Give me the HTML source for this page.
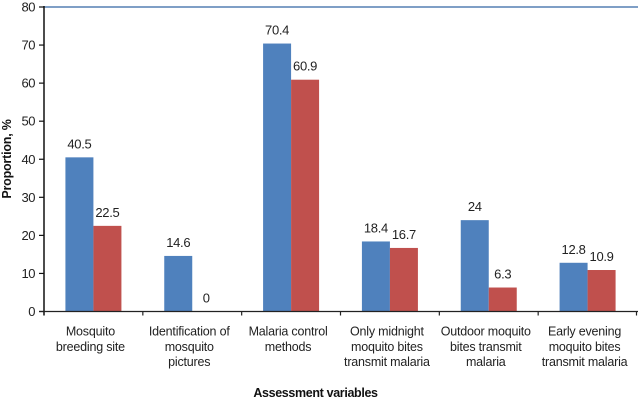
<!DOCTYPE html>
<html>
<head>
<meta charset="utf-8">
<style>
html,body{margin:0;padding:0;background:#fff;width:638px;height:401px;overflow:hidden}
svg{display:block}
text{font-family:"Liberation Sans",sans-serif;fill:#222}
</style>
</head>
<body>
<svg id="chart" width="638" height="401" viewBox="0 0 638 401" xmlns="http://www.w3.org/2000/svg">
<rect width="638" height="401" fill="#fff"/>
<text transform="translate(11,159) rotate(-90)" text-anchor="middle" font-size="12.5" font-weight="700" letter-spacing="-0.2" style="fill:#111">Proportion, %</text>
<text x="315.5" y="397" text-anchor="middle" font-size="12.5" font-weight="700" letter-spacing="-0.35" style="fill:#111">Assessment variables</text>
</svg>
<script>
const categories = [
  ["Mosquito", "breeding site"],
  ["Identification of", "mosquito", "pictures"],
  ["Malaria control", "methods"],
  ["Only midnight", "moquito bites", "transmit malaria"],
  ["Outdoor moquito", "bites transmit", "malaria"],
  ["Early evening", "moquito bites", "transmit malaria"]
];
const seriesBlue = [40.5, 14.6, 70.4, 18.4, 24, 12.8];
const seriesRed = [22.5, 0, 60.9, 16.7, 6.3, 10.9];
const yTicks = [0, 10, 20, 30, 40, 50, 60, 70, 80];

const NS = 'http://www.w3.org/2000/svg';
const svg = document.getElementById('chart');
const plotLeft = 44, plotRight = 637, plotTop = 7, plotBottom = 311.5, yMax = 80;
const barWidth = 28;
function yScale(v) { return plotBottom - (v / yMax) * (plotBottom - plotTop); }
function bandWidth() { return (plotRight - plotLeft) / categories.length; }
function xCenter(i) { return plotLeft + bandWidth() * (i + 0.5); }
function make(tag, attrs, text) {
  const el = document.createElementNS(NS, tag);
  for (const k in attrs) el.setAttribute(k, attrs[k]);
  if (text !== undefined) el.textContent = text;
  svg.appendChild(el);
  return el;
}

// top border line
const topLine = make('line', {x1: plotLeft, x2: 638, y1: plotTop, y2: plotTop, stroke: '#7f9fc6', 'stroke-width': 2});



// bars
categories.forEach(function (c, i) {
  const cx = xCenter(i);
  const blueBar = make('rect', {x: cx - barWidth, y: yScale(seriesBlue[i]), width: barWidth, height: plotBottom - yScale(seriesBlue[i]), fill: '#4f81bd'});
  
  
  const redBar = make('rect', {x: cx, y: yScale(seriesRed[i]), width: barWidth, height: plotBottom - yScale(seriesRed[i]), fill: '#c0504d'});
  
  
  const blueLabel = make('text', {x: cx - barWidth / 2, y: yScale(seriesBlue[i]) - 9, 'text-anchor': 'middle', 'font-size': 13, 'letter-spacing': -0.3}, String(seriesBlue[i]));
  
  
  const redLabel = make('text', {x: cx + barWidth / 2, y: yScale(seriesRed[i]) - 9, 'text-anchor': 'middle', 'font-size': 13, 'letter-spacing': -0.3}, String(seriesRed[i]));
  
  
  c.forEach(function (line, j) {
    const catLabel = make('text', {x: cx - 3, y: 335.5 + j * 15.3, 'text-anchor': 'middle', 'font-size': 12.5, 'letter-spacing': -0.2}, line);
    
    
  });
});

// y axis
const yAxis = make('line', {x1: plotLeft, x2: plotLeft, y1: plotTop - 1, y2: plotBottom + 4, stroke: '#111', 'stroke-width': 1.5});


yTicks.forEach(function (t) {
  const tick = make('line', {x1: plotLeft - 5, x2: plotLeft, y1: yScale(t), y2: yScale(t), stroke: '#111', 'stroke-width': 1.2});
  
  
  const tickLabel = make('text', {x: plotLeft - 9, y: yScale(t) + 4.5, 'text-anchor': 'end', 'font-size': 13, 'letter-spacing': -0.5}, String(t));
  
  
});

// x axis
const xAxis = make('line', {x1: plotLeft - 5, x2: 638, y1: plotBottom, y2: plotBottom, stroke: '#222', 'stroke-width': 1.3});


categories.forEach(function (c, i) {
  const bx = plotLeft + bandWidth() * (i + 1) - (i === categories.length - 1 ? 0.5 : 0);
  const xTick = make('line', {x1: bx, x2: bx, y1: plotBottom, y2: plotBottom + 4, stroke: '#222', 'stroke-width': 1.2});
  
  
});
</script>
</body>
</html>
